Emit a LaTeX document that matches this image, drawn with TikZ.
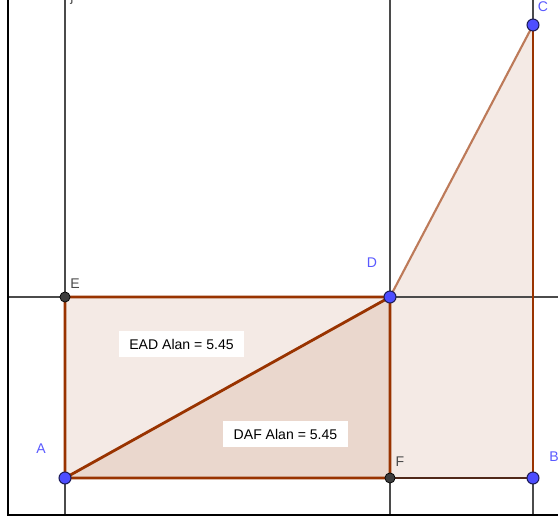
\documentclass[tikz,border=0pt]{standalone}
\usepackage{fontspec}
\setmainfont{Liberation Sans}
\definecolor{poly}{RGB}{153,51,0}
\definecolor{ptblue}{RGB}{77,77,255}
\definecolor{ptlabel}{RGB}{90,90,255}
\definecolor{grid}{RGB}{75,75,75}
\begin{document}
\begin{tikzpicture}[x=0.02cm,y=-0.02cm,font=\fontsize{8}{9}\selectfont,
  gridline/.style={draw=grid, line width=1.3pt},
  edge/.style={draw=poly, line width=1.6pt, line join=round},
  area/.style={fill=poly, fill opacity=0.1},
  freept/.style={circle, fill=ptblue, draw={rgb,255:red,30;green,30;blue,90}, line width=0.6pt, inner sep=0pt, minimum size=6.8pt},
  fixpt/.style={circle, fill={rgb,255:red,60;green,60;blue,60}, draw=black, line width=0.4pt, inner sep=0pt, minimum size=5.8pt},
  valbox/.style={fill=white, inner xsep=6pt, minimum height=14.7pt}]
\useasboundingbox (0,0) rectangle (558,519);
\fill[white] (0,0) rectangle (558,519);

\coordinate (A) at (65,478); \coordinate (B) at (533,478); \coordinate (C) at (533,25);
\coordinate (D) at (390,297); \coordinate (E) at (65,297); \coordinate (F) at (390,478);

% shaded areas
\fill[area] (A) -- (F) -- (D) -- (E) -- cycle;
\fill[area] (D) -- (A) -- (F) -- cycle;
\fill[area] (F) -- (B) -- (C) -- (D) -- cycle;

% lines and axes
\draw[gridline] (E |- 0,0) -- (A |- 0,515);
\draw[gridline] (D |- 0,0) -- (F |- 0,515);
\draw[gridline] (C |- 0,0) -- (B |- 0,515);
\draw[gridline] (8,297) -- (558,297);
\draw[black, line width=1.2pt] (8,0) -- (8,515) -- (558,515);

% polygon sides
\draw[edge] (A) -- (E) -- (D) -- (A) -- (F) -- (D);
\draw[edge] (C) -- (B);
\draw[draw={rgb,255:red,80;green,40;blue,25}, line width=1.6pt] (F) -- (B);
\draw[draw=poly!65, line width=1.2pt] (D) -- (C);

% points
\node[freept] (pA) at (A) {}; \node[freept] (pB) at (B) {}; \node[freept] (pC) at (C) {};
\node[freept] (pD) at (D) {}; \node[fixpt] (pE) at (E) {}; \node[fixpt] (pF) at (F) {};
\node[text=ptlabel] (lA) at (41,449) {A};
\node[text=ptlabel] (lB) at (554,457) {B};
\node[text=ptlabel] (lC) at (543,7) {C};
\node[text=ptlabel] (lD) at (372,263) {D};
\node[text=grid] (lE) at (75,284) {E};
\node[text=grid] (lF) at (400,462) {F};
\node[text=grid, anchor=base] (lj) at (72,2) {j};

\node[valbox] (ead) at (181.5,344) {EAD Alan = 5.45};
\node[valbox] (daf) at (285.5,434) {DAF Alan = 5.45};

\end{tikzpicture}
\end{document}
